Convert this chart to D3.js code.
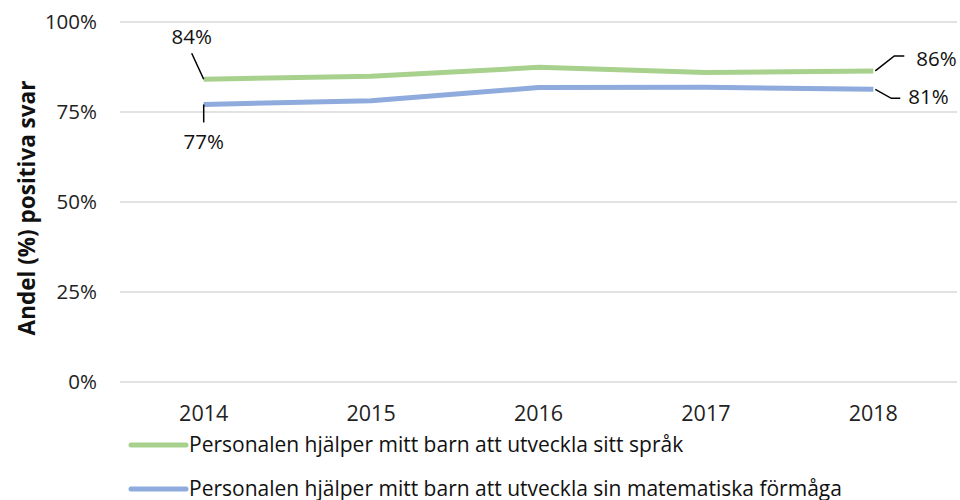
<!DOCTYPE html>
<html><head><meta charset="utf-8">
<script src="https://cdn.jsdelivr.net/npm/d3@7"></script>
<style>body{margin:0;background:#fff}svg{font-family:"Open Sans",sans-serif}</style>
</head><body><svg width="960" height="500"></svg>
<script>
const years = ["2014","2015","2016","2017","2018"];
const sprak = [84.1, 84.9, 87.4, 86.0, 86.4];
const matte = [77.1, 78.1, 81.8, 81.9, 81.3];
const yTicks = [0, 25, 50, 75, 100];
const seriesNames = ["Personalen hjälper mitt barn att utveckla sitt språk","Personalen hjälper mitt barn att utveckla sin matematiska förmåga"];
const colors = ["#A9D18E","#8FAADC"];

const svg = d3.select("svg");
const x = d3.scaleBand().domain(years).range([120,957]);
const y = d3.scaleLinear().domain([0,100]).range([382,22]);
const cx = d => x(d)+x.bandwidth()/2;

svg.append("g").selectAll("line").data(yTicks).join("line")
  .attr("x1",120).attr("x2",957).attr("y1",d=>y(d)).attr("y2",d=>y(d))
  .attr("stroke","#d9d9d9").attr("stroke-width",1.3);
svg.append("g").selectAll("text").data(yTicks).join("text")
  .attr("x",97).attr("y",d=>y(d)+7).attr("text-anchor","end")
  .attr("font-size",20.5).attr("fill","#222").text(d=>d+"%");
svg.append("g").selectAll("text").data(years).join("text")
  .attr("x",d=>cx(d)).attr("y",421).attr("text-anchor","middle")
  .attr("font-size",21.5).attr("fill","#222").text(d=>d);
svg.append("text").attr("transform","translate(35,208) rotate(-90)")
  .attr("text-anchor","middle").attr("font-size",22.5).attr("font-weight","bold")
  .attr("fill","#111").text("Andel (%) positiva svar");

const line = d3.line().x((d,i)=>cx(years[i])).y(d=>y(d));
[sprak, matte].forEach((s,i)=>{
  svg.append("path").attr("d",line(s)).attr("fill","none")
    .attr("stroke",colors[i]).attr("stroke-width",5).attr("stroke-linejoin","round");
});

// data labels with leader lines
const first = years[0], last = years[years.length-1];
const lab = (txt, xx, yy, anchor) => svg.append("text").attr("x",xx).attr("y",yy)
  .attr("text-anchor",anchor).attr("font-size",20.5).attr("fill","#111").text(txt);
const leader = pts => svg.append("path").attr("d",d3.line()(pts)).attr("fill","none")
  .attr("stroke","#000").attr("stroke-width",1.5);
const x0 = cx(first), x1 = cx(last);
leader([[x0,y(sprak[0])],[x0-12,y(sprak[0])-26]]);
lab(Math.round(sprak[0])+"%", x0-12, y(sprak[0])-35, "middle");
leader([[x0,y(matte[0])],[x0,y(matte[0])+18]]);
lab(Math.round(matte[0])+"%", x0, y(matte[0])+45, "middle");
leader([[x1+2,y(sprak[4])],[x1+21,y(sprak[4])-15],[x1+31,y(sprak[4])-15]]);
lab(Math.round(sprak[4])+"%", x1+43, y(sprak[4])-5, "start");
leader([[x1+2,y(matte[4])],[x1+18,y(matte[4])+9],[x1+27,y(matte[4])+9]]);
lab(Math.round(matte[4])+"%", x1+35, y(matte[4])+15, "start");

// legend
const legY = [445, 489];
seriesNames.forEach((n,i)=>{
  const ly = legY[i];
  svg.append("line").attr("x1",131).attr("x2",186).attr("y1",ly).attr("y2",ly)
    .attr("stroke",colors[i]).attr("stroke-width",5).attr("stroke-linecap","round");
  svg.append("text").attr("x",189).attr("y",ly+6.5).attr("font-size",21)
    .attr("fill","#111").text(n);
});
</script></body></html>
